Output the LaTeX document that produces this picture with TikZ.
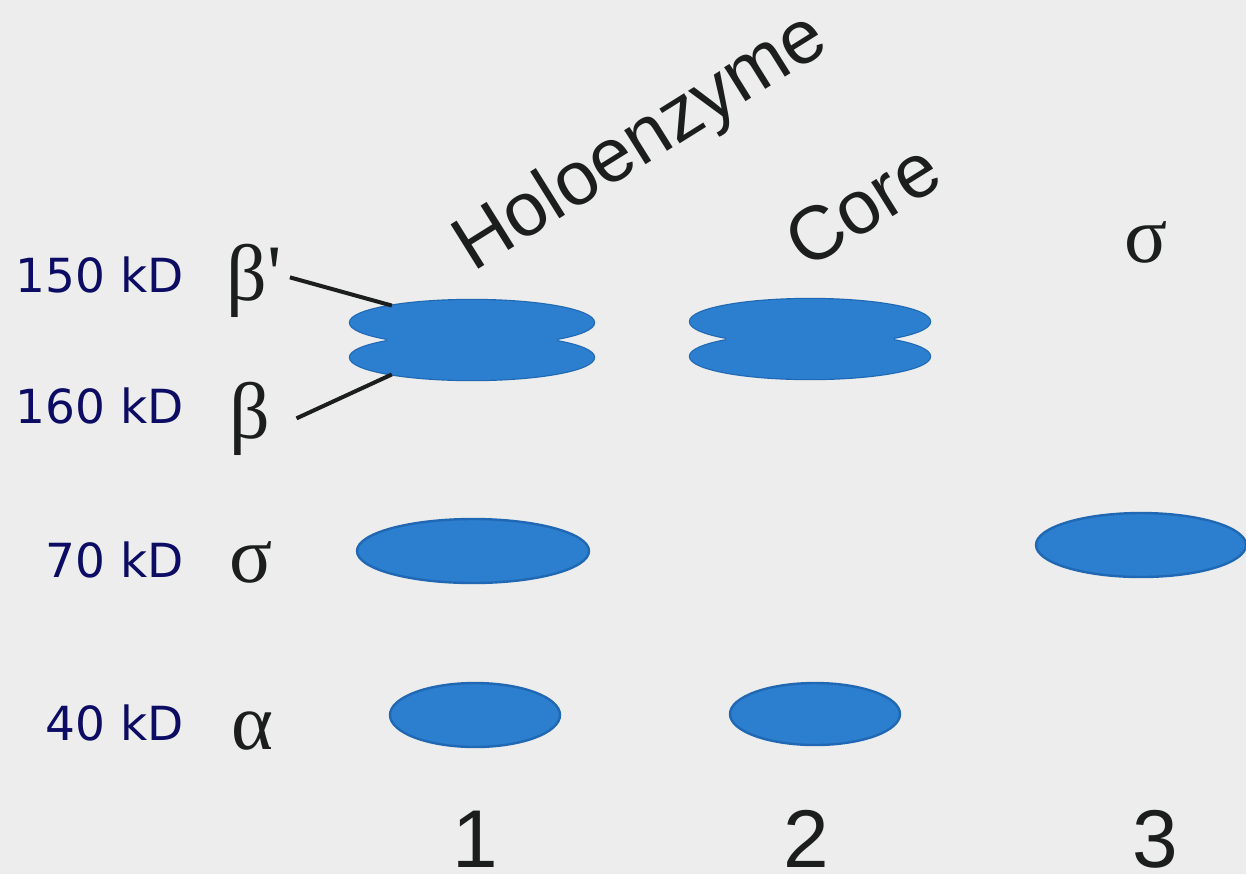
\documentclass[tikz,border=0pt]{standalone}
\usepackage{fontspec}
\setmainfont{Liberation Serif}
\newfontfamily\greekfont{Liberation Serif}[Ligatures=TeXOff]
\newfontfamily\kdfont{DejaVu Sans}
\newfontfamily\lanefont{Liberation Sans}
\usetikzlibrary{shapes.geometric,calc}
\definecolor{bg}{RGB}{237,237,237}
\definecolor{bandblue}{RGB}{44,127,206}
\definecolor{bandedge}{RGB}{32,104,180}
\definecolor{kdnavy}{RGB}{12,12,100}
\definecolor{ink}{RGB}{28,30,30}
\begin{document}
\begin{tikzpicture}[x=0.5pt,y=-0.5pt,
  kd/.style={font=\kdfont\fontsize{23.5}{26}\selectfont, text=kdnavy, anchor=base east, inner sep=0pt},
  greek/.style={font=\greekfont\fontsize{40}{44}\selectfont, text=ink, anchor=base west, inner sep=0pt},
  lanelabel/.style={font=\lanefont\fontsize{38}{40}\selectfont, text=ink, anchor=base west, inner sep=0pt, rotate=32},
  lanenum/.style={font=\lanefont\fontsize{41}{44}\selectfont, text=ink, anchor=base, inner sep=0pt},
  band/.style={ellipse, fill=bandblue, draw=bandedge, line width=1.2pt, inner sep=0pt, outer sep=0pt},
  bandfill/.style={ellipse, fill=bandblue, inner sep=0pt, outer sep=0pt},
  pointer/.style={draw=ink, line width=2pt},
]
\fill[bg] (0,0) rectangle (1246,874);
\useasboundingbox (0,0) rectangle (1246,874);

% molecular weight labels
\node[kd] (kd150) at (184,292) {150 kD};
\node[kd] (kd160) at (184,423) {160 kD};
\node[kd] (kd70)  at (184,577) {70 kD};
\node[kd] (kd40)  at (184,740) {40 kD};

% subunit labels
\node[greek] (bp) at (226,300) {β'};
\node[greek] (b)  at (229,438) {β};
\node[greek] (s)  at (229,582) {σ};
\node[greek] (a)  at (231,749) {α};

% lane headings
\node[lanelabel] (holo) at (473,273) {Holoenzyme};
\node[lanelabel] (core) at (806,271) {Core};
\node[greek] (stop) at (1124,262) {σ};

% lane 1 double band
\node[band, minimum width=122pt, minimum height=22.6pt] (h1t) at (472,322.6) {};
\node[band, minimum width=122pt, minimum height=22.6pt] (h1b) at (472,357.4) {};
\node[bandfill, minimum width=122pt, minimum height=22.6pt] (h1tf) at (472,322.6) {};
\node[bandfill, minimum width=122pt, minimum height=22.6pt] (h1bf) at (472,357.4) {};
\node[bandfill, minimum width=85pt, minimum height=28pt] (h1m) at (472,340) {};
% lane 2 double band
\node[band, minimum width=120pt, minimum height=22.6pt] (c2t) at (810,321.6) {};
\node[band, minimum width=120pt, minimum height=22.6pt] (c2b) at (810,356.4) {};
\node[bandfill, minimum width=120pt, minimum height=22.6pt] (c2tf) at (810,321.6) {};
\node[bandfill, minimum width=120pt, minimum height=22.6pt] (c2bf) at (810,356.4) {};
\node[bandfill, minimum width=84pt, minimum height=28pt] (c2m) at (810,339) {};

% sigma bands
\node[band, minimum width=116pt, minimum height=32pt] (s1) at (473,551) {};
\node[band, minimum width=105pt, minimum height=32pt] (s3) at (1141,545) {};
% alpha bands
\node[band, minimum width=85pt, minimum height=32pt] (a1) at (475,715) {};
\node[band, minimum width=85pt, minimum height=31pt] (a2) at (815,714) {};

% pointer lines
\draw[pointer] ($(bp.east)+(4pt,1.5pt)$) -- (h1t.168);
\draw[pointer] ($(b.east)+(13pt,0pt)$) -- (h1b.192);

% lane numbers
\node[lanenum] (n1) at (475,867) {1};
\node[lanenum] (n2) at (806,867) {2};
\node[lanenum] (n3) at (1155,867) {3};
\end{tikzpicture}
\end{document}
